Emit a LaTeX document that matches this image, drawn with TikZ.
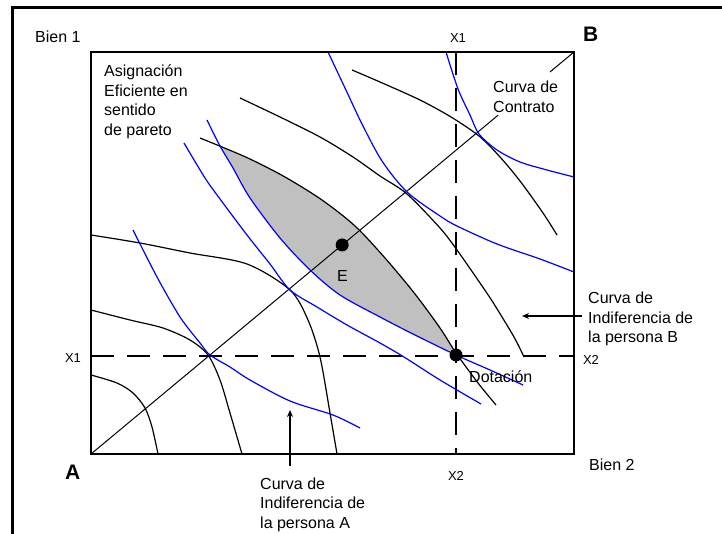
\documentclass[tikz,border=0pt]{standalone}
\usepackage{fontspec}
\setmainfont{Liberation Sans}
\usetikzlibrary{arrows.meta,calc}
\definecolor{curveblue}{RGB}{0,0,255}
\definecolor{lensgray}{RGB}{192,192,192}
\begin{document}
\begin{tikzpicture}[x=1pt,y=-1pt,
  bcurve/.style={black,line width=1.2pt,line join=round},
  ucurve/.style={curveblue,line width=1.2pt,line join=round},
  lbl/.style={font=\fontsize{16}{19.5}\selectfont,inner sep=0pt},
  axlbl/.style={font=\fontsize{13}{15}\selectfont,inner sep=0pt},
  corner/.style={font=\fontsize{21}{24}\selectfont\bfseries,inner sep=0pt},
  dashline/.style={black,line width=1.4pt,dash pattern=on 23pt off 13pt},
  dot/.style={circle,fill=black,inner sep=0pt,minimum size=13pt},
  ptr/.style={-{Stealth[length=7pt,width=6pt]},line width=1.2pt}]
\useasboundingbox (0,0) rectangle (722,534);
\fill[white] (0,0) rectangle (722,534);

% curve definitions
\def\curveAone{plot[smooth] coordinates {(91,375) (117,383) (133,393) (145,408) (152,427) (158,454)}}
\def\curveAtwo{plot[smooth] coordinates {(91,310) (130,320) (163,328) (190,340) (208,355) (220,380) (230,413) (242,454)}}
\def\curveAthree{plot[smooth] coordinates {(91,235) (140,243) (190,253) (247,264) (290,290) (308,320) (320,357) (330,413) (337,454)}}
\def\curveAfour{plot[smooth] coordinates {(200,138) (222,147) (250,159) (285,177) (322,200) (355,226) (385,258) (415,294) (440,328) (456,353) (478,383) (496,405)}}
\def\curveAfive{plot[smooth] coordinates {(352,70) (380,82) (420,100) (451,117) (479,136) (500,157) (520,181) (543,213) (557,235)}}
\def\curveAsix{plot[smooth] coordinates {(240,98) (280,117) (320,137) (353,157) (380,176) (407,194) (440,228) (457,250) (480,283) (494,304) (514,337) (524,357)}}
\def\curveBone{plot[smooth] coordinates {(446,52) (458,89) (470,115) (479,134) (497,150) (520,162) (547,170) (574,177)}}
\def\curveBtwo{plot[smooth] coordinates {(328,52) (345,88) (362,124) (382,161) (407,192) (440,216) (457,226) (497,244) (540,259) (574,272)}}
\def\curveBthree{plot[smooth] coordinates {(207,120) (220,146) (233,168) (250,198) (280,238) (310,270) (340,295) (380,317) (413,334) (456,355) (490,370) (523,385)}}
\def\curveBfour{plot[smooth] coordinates {(184,143) (205,178) (220,199) (247,235) (270,264) (290,290) (317,307) (347,325) (380,343) (404,357) (440,380) (481,404)}}
\def\curveBfive{plot[smooth] coordinates {(133,230) (157,277) (180,317) (200,343) (210,355) (230,367) (250,380) (290,401) (333,415) (360,428)}}

% key points
\coordinate (A) at (91,454);
\coordinate (B) at (574,52);
\coordinate (E) at ($(A)!0.52!(B)$);
\coordinate (D) at (456,355);

% lens (efficient allocations)
\begin{scope}
  \clip \curveAfour -- (496,454) -- (91,454) -- (91,138) -- cycle;
  \clip \curveBthree -- (574,385) -- (574,52) -- (207,52) -- cycle;
  \fill[lensgray] (91,52) rectangle (574,454);
\end{scope}

% endowment dashed lines
\coordinate (vtop) at (456,52);
\coordinate (vbot) at (456,454);
\coordinate (hleft) at (91,356);
\coordinate (hright) at (574,356);
\draw[dashline] (vtop) -- (vbot);
\draw[dashline] (hleft) -- (hright);

% contract curve
\coordinate (cc1) at ($(A)!0.8427!(B)$);
\coordinate (cc2) at ($(A)!0.9503!(B)$);
\draw[black,line width=1pt] (A) -- (cc1);
\draw[black,line width=1pt] (cc2) -- (B);

% indifference curves
\draw[bcurve] \curveAone;
\draw[bcurve] \curveAtwo;
\draw[bcurve] \curveAthree;
\draw[bcurve] \curveAfour;
\draw[bcurve] \curveAfive;
\draw[bcurve] \curveAsix;
\draw[ucurve] \curveBone;
\draw[ucurve] \curveBtwo;
\draw[ucurve] \curveBthree;
\draw[ucurve] \curveBfour;
\draw[ucurve] \curveBfive;

% box and frame
\draw[black,line width=1.8pt] (A) rectangle (B);
\draw[black,line width=3pt] (12,540) -- (12,8) -- (730,8);

% points
\node[dot] (Edot) at (E) {};
\node[dot] (Ddot) at (D) {};

% labels
\node[lbl,anchor=base west] (bien1) at (35,43) {Bien 1};
\node[lbl,anchor=base west] (bien2) at (589,470) {Bien 2};
\node[axlbl,anchor=base] (x1top) at (458,43) {X1};
\node[axlbl,anchor=base] (x1left) at (73,362) {X1};
\node[axlbl,anchor=base] (x2right) at (591,364) {X2};
\node[axlbl,anchor=base] (x2bot) at (456,480) {X2};
\node[corner,anchor=base west] (Alab) at (65,479) {A};
\node[corner,anchor=base west] (Blab) at (583,42) {B};
\node[lbl,anchor=base west] (Elab) at (337,282) {E};
\node[lbl,anchor=base west] (Dlab) at (469,382) {Dotación};
\node[lbl,anchor=base west] (asig) at (104,77) {\begin{tabular}[t]{@{}l@{}}Asignación\\Eficiente en\\sentido\\de pareto\end{tabular}};
\node[lbl,anchor=base west] (contrato) at (493,93) {\begin{tabular}[t]{@{}l@{}}Curva de\\Contrato\end{tabular}};
\node[lbl,anchor=base west] (indB) at (588,304) {\begin{tabular}[t]{@{}l@{}}Curva de\\Indiferencia de\\la persona B\end{tabular}};
\node[lbl,anchor=base west] (indA) at (260,489) {\begin{tabular}[t]{@{}l@{}}Curva de\\Indiferencia de\\la persona A\end{tabular}};

% pointers
\coordinate (tailA) at (290,466);
\coordinate (tipA) at (290,410);
\coordinate (tailB) at (582,316);
\coordinate (tipB) at (522,316);
\draw[ptr] (tailA) -- (tipA);
\draw[ptr] (tailB) -- (tipB);
\end{tikzpicture}
\end{document}
